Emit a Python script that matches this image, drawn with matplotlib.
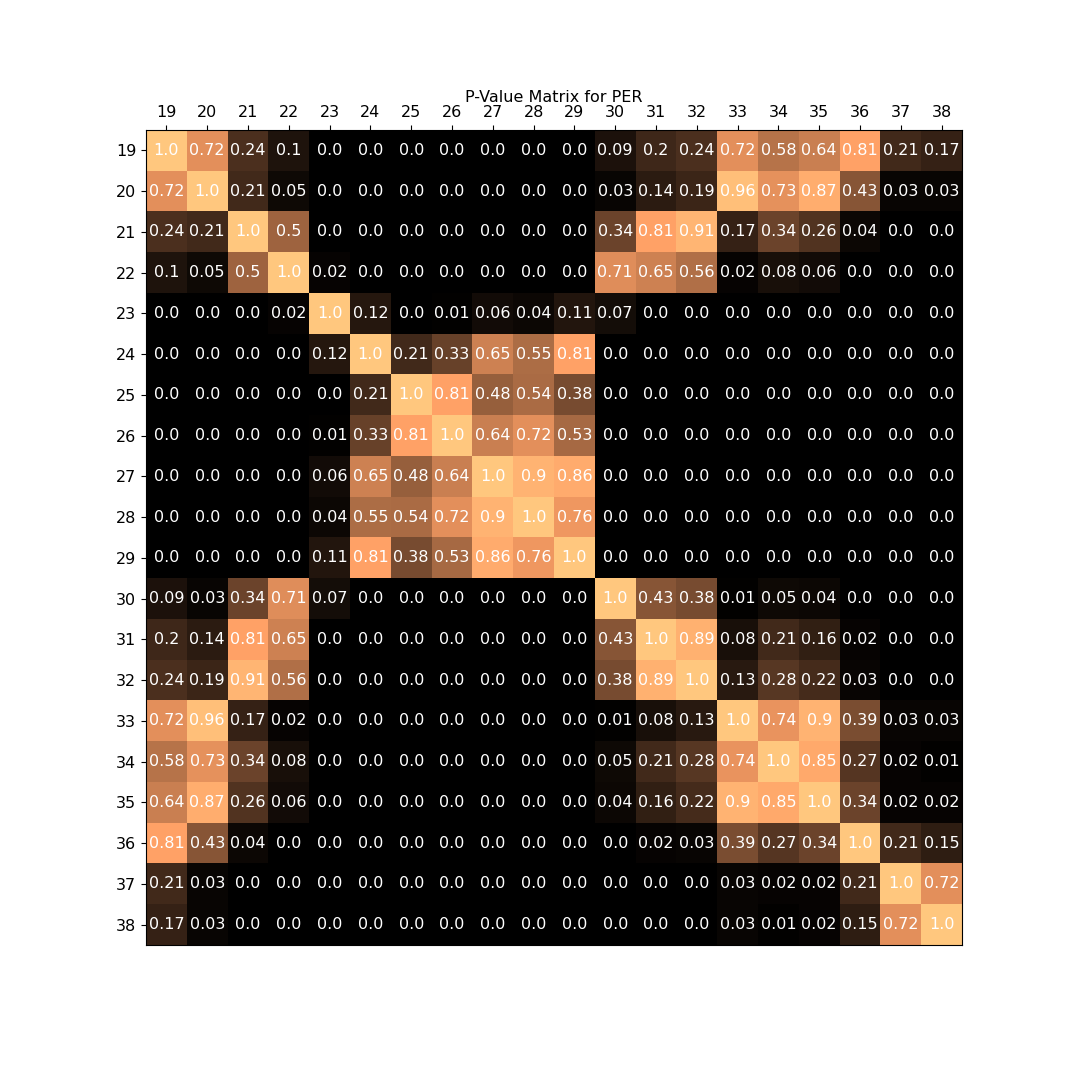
import numpy as np
import matplotlib
matplotlib.use("Agg")
import matplotlib.pyplot as plt

labels = [str(i) for i in range(19, 39)]

# p-values, row by row (rows/cols = 19..38)
row19 = [1.0, 0.72, 0.24, 0.1, 0.0, 0.0, 0.0, 0.0, 0.0, 0.0, 0.0, 0.09, 0.2, 0.24, 0.72, 0.58, 0.64, 0.81, 0.21, 0.17]
row20 = [0.72, 1.0, 0.21, 0.05, 0.0, 0.0, 0.0, 0.0, 0.0, 0.0, 0.0, 0.03, 0.14, 0.19, 0.96, 0.73, 0.87, 0.43, 0.03, 0.03]
row21 = [0.24, 0.21, 1.0, 0.5, 0.0, 0.0, 0.0, 0.0, 0.0, 0.0, 0.0, 0.34, 0.81, 0.91, 0.17, 0.34, 0.26, 0.04, 0.0, 0.0]
row22 = [0.1, 0.05, 0.5, 1.0, 0.02, 0.0, 0.0, 0.0, 0.0, 0.0, 0.0, 0.71, 0.65, 0.56, 0.02, 0.08, 0.06, 0.0, 0.0, 0.0]
row23 = [0.0, 0.0, 0.0, 0.02, 1.0, 0.12, 0.0, 0.01, 0.06, 0.04, 0.11, 0.07, 0.0, 0.0, 0.0, 0.0, 0.0, 0.0, 0.0, 0.0]
row24 = [0.0, 0.0, 0.0, 0.0, 0.12, 1.0, 0.21, 0.33, 0.65, 0.55, 0.81, 0.0, 0.0, 0.0, 0.0, 0.0, 0.0, 0.0, 0.0, 0.0]
row25 = [0.0, 0.0, 0.0, 0.0, 0.0, 0.21, 1.0, 0.81, 0.48, 0.54, 0.38, 0.0, 0.0, 0.0, 0.0, 0.0, 0.0, 0.0, 0.0, 0.0]
row26 = [0.0, 0.0, 0.0, 0.0, 0.01, 0.33, 0.81, 1.0, 0.64, 0.72, 0.53, 0.0, 0.0, 0.0, 0.0, 0.0, 0.0, 0.0, 0.0, 0.0]
row27 = [0.0, 0.0, 0.0, 0.0, 0.06, 0.65, 0.48, 0.64, 1.0, 0.9, 0.86, 0.0, 0.0, 0.0, 0.0, 0.0, 0.0, 0.0, 0.0, 0.0]
row28 = [0.0, 0.0, 0.0, 0.0, 0.04, 0.55, 0.54, 0.72, 0.9, 1.0, 0.76, 0.0, 0.0, 0.0, 0.0, 0.0, 0.0, 0.0, 0.0, 0.0]
row29 = [0.0, 0.0, 0.0, 0.0, 0.11, 0.81, 0.38, 0.53, 0.86, 0.76, 1.0, 0.0, 0.0, 0.0, 0.0, 0.0, 0.0, 0.0, 0.0, 0.0]
row30 = [0.09, 0.03, 0.34, 0.71, 0.07, 0.0, 0.0, 0.0, 0.0, 0.0, 0.0, 1.0, 0.43, 0.38, 0.01, 0.05, 0.04, 0.0, 0.0, 0.0]
row31 = [0.2, 0.14, 0.81, 0.65, 0.0, 0.0, 0.0, 0.0, 0.0, 0.0, 0.0, 0.43, 1.0, 0.89, 0.08, 0.21, 0.16, 0.02, 0.0, 0.0]
row32 = [0.24, 0.19, 0.91, 0.56, 0.0, 0.0, 0.0, 0.0, 0.0, 0.0, 0.0, 0.38, 0.89, 1.0, 0.13, 0.28, 0.22, 0.03, 0.0, 0.0]
row33 = [0.72, 0.96, 0.17, 0.02, 0.0, 0.0, 0.0, 0.0, 0.0, 0.0, 0.0, 0.01, 0.08, 0.13, 1.0, 0.74, 0.9, 0.39, 0.03, 0.03]
row34 = [0.58, 0.73, 0.34, 0.08, 0.0, 0.0, 0.0, 0.0, 0.0, 0.0, 0.0, 0.05, 0.21, 0.28, 0.74, 1.0, 0.85, 0.27, 0.02, 0.01]
row35 = [0.64, 0.87, 0.26, 0.06, 0.0, 0.0, 0.0, 0.0, 0.0, 0.0, 0.0, 0.04, 0.16, 0.22, 0.9, 0.85, 1.0, 0.34, 0.02, 0.02]
row36 = [0.81, 0.43, 0.04, 0.0, 0.0, 0.0, 0.0, 0.0, 0.0, 0.0, 0.0, 0.0, 0.02, 0.03, 0.39, 0.27, 0.34, 1.0, 0.21, 0.15]
row37 = [0.21, 0.03, 0.0, 0.0, 0.0, 0.0, 0.0, 0.0, 0.0, 0.0, 0.0, 0.0, 0.0, 0.0, 0.03, 0.02, 0.02, 0.21, 1.0, 0.72]
row38 = [0.17, 0.03, 0.0, 0.0, 0.0, 0.0, 0.0, 0.0, 0.0, 0.0, 0.0, 0.0, 0.0, 0.0, 0.03, 0.01, 0.02, 0.15, 0.72, 1.0]

pvals = np.array([row19, row20, row21, row22, row23, row24, row25, row26, row27, row28,
                  row29, row30, row31, row32, row33, row34, row35, row36, row37, row38])

fig = plt.figure(figsize=(10.8, 10.8), dpi=100)
ax = fig.add_axes([146 / 1080, 1 - 945 / 1080, 816 / 1080, 815 / 1080])
ax.imshow(pvals, cmap="copper", vmin=0, vmax=1, aspect="auto")

n = len(labels)
for i in range(n):
    for j in range(n):
        ax.text(j, i, str(pvals[i, j]), ha="center", va="center", color="white", fontsize=11.5)

ax.set_xticks(range(n))
ax.set_yticks(range(n))
ax.set_xticklabels(labels, fontsize=11.5)
ax.set_yticklabels(labels, fontsize=11.5)
ax.xaxis.tick_top()
ax.set_title("P-Value Matrix for PER", fontsize=11.5, pad=1)

plt.savefig("out.png", dpi=100)
